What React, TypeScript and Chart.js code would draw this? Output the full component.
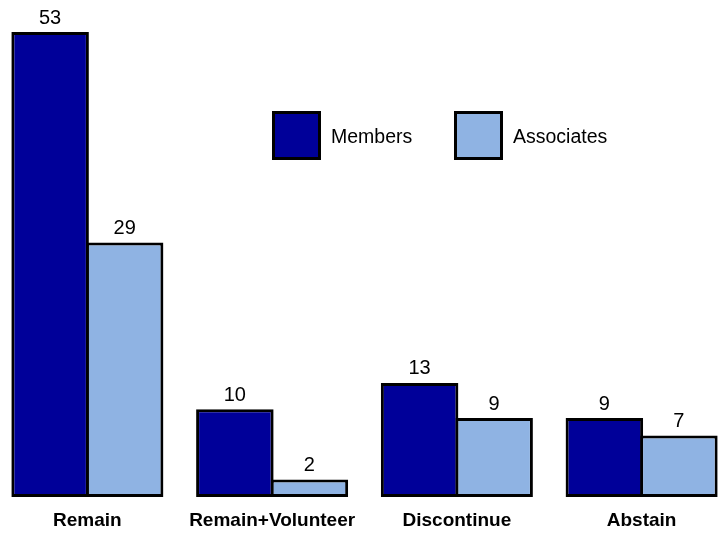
import { useEffect, useRef } from "react";
import { Chart, registerables } from "chart.js";

Chart.register(...registerables);

const categories = ["Remain", "Remain+Volunteer", "Discontinue", "Abstain"];
const membersValues = [53, 10, 13, 9];
const associatesValues = [29, 2, 9, 7];
const seriesNames = ["Members", "Associates"];
const Y_MAX = 53;

const FONT = '"Liberation Sans", Arial, Helvetica, sans-serif';
const DARK = "#000099";
const LIGHT = "#8fb3e3";

const valueLabels = {
  id: "valueLabels",
  afterDatasetsDraw(chart: any) {
    const ctx = chart.ctx;
    ctx.save();
    ctx.font = `20px ${FONT}`;
    ctx.fillStyle = "#000";
    ctx.textAlign = "center";
    ctx.textBaseline = "alphabetic";
    chart.data.datasets.forEach((ds: any, i: number) => {
      const meta = chart.getDatasetMeta(i);
      meta.data.forEach((el: any, j: number) => {
        ctx.fillText(String(ds.data[j]), el.x, el.y - 8.5);
      });
    });
    ctx.restore();
  },
};

const boxLegend = {
  id: "boxLegend",
  afterDraw(chart: any, _args: any, opts: any) {
    const ctx = chart.ctx;
    const { x, y, size, spacing, gap, baseline } = opts;
    ctx.save();
    chart.data.datasets.forEach((ds: any, i: number) => {
      const bx = x + i * spacing;
      ctx.fillStyle = ds.backgroundColor;
      ctx.fillRect(bx, y, size, size);
      ctx.lineWidth = 3;
      ctx.strokeStyle = "#000";
      ctx.strokeRect(bx + 1.5, y + 1.5, size - 3, size - 3);
      ctx.fillStyle = "#000";
      ctx.font = `19.5px ${FONT}`;
      ctx.textAlign = "left";
      ctx.textBaseline = "alphabetic";
      ctx.fillText(ds.label, bx + size + gap, y + baseline);
    });
    ctx.restore();
  },
};

export default function App() {
  const ref = useRef<HTMLCanvasElement | null>(null);

  useEffect(() => {
    if (!ref.current) return;
    const chart = new Chart(ref.current, {
      type: "bar",
      data: {
        labels: categories,
        datasets: [
          {
            label: seriesNames[0],
            data: membersValues,
            backgroundColor: DARK,
            borderColor: "#000",
            borderWidth: 3,
            borderSkipped: false,
          },
          {
            label: seriesNames[1],
            data: associatesValues,
            backgroundColor: LIGHT,
            borderColor: "#000",
            borderWidth: 3,
            borderSkipped: false,
          },
        ],
      },
      options: {
        responsive: false,
        animation: false,
        layout: { padding: { top: 32, left: 0, right: 0, bottom: 0 } },
        datasets: {
          bar: { categoryPercentage: 0.8067, barPercentage: 1.0403 },
        },
        plugins: {
          legend: { display: false },
          tooltip: { enabled: false },
          boxLegend: { x: 277, y: 111, size: 49, spacing: 182, gap: 10, baseline: 32 },
        } as any,
        scales: {
          x: {
            grid: { display: false, drawTicks: false },
            border: { display: false },
            ticks: {
              color: "#000",
              font: { family: FONT, size: 19, weight: "bold" },
              padding: 12,
              maxRotation: 0,
              autoSkip: false,
            },
            afterFit: (s: any) => {
              s.height = 36;
            },
          },
          y: { display: false, min: 0, max: Y_MAX },
        },
      },
      plugins: [valueLabels, boxLegend],
    });
    return () => chart.destroy();
  }, []);

  return (
    <div style={{ position: "fixed", inset: 0, overflow: "hidden", background: "#fff" }}>
      <div style={{ position: "absolute", left: -5, top: 0, width: 739, height: 533 }}>
        <canvas ref={ref} width={739} height={533} style={{ display: "block" }} />
      </div>
    </div>
  );
}
